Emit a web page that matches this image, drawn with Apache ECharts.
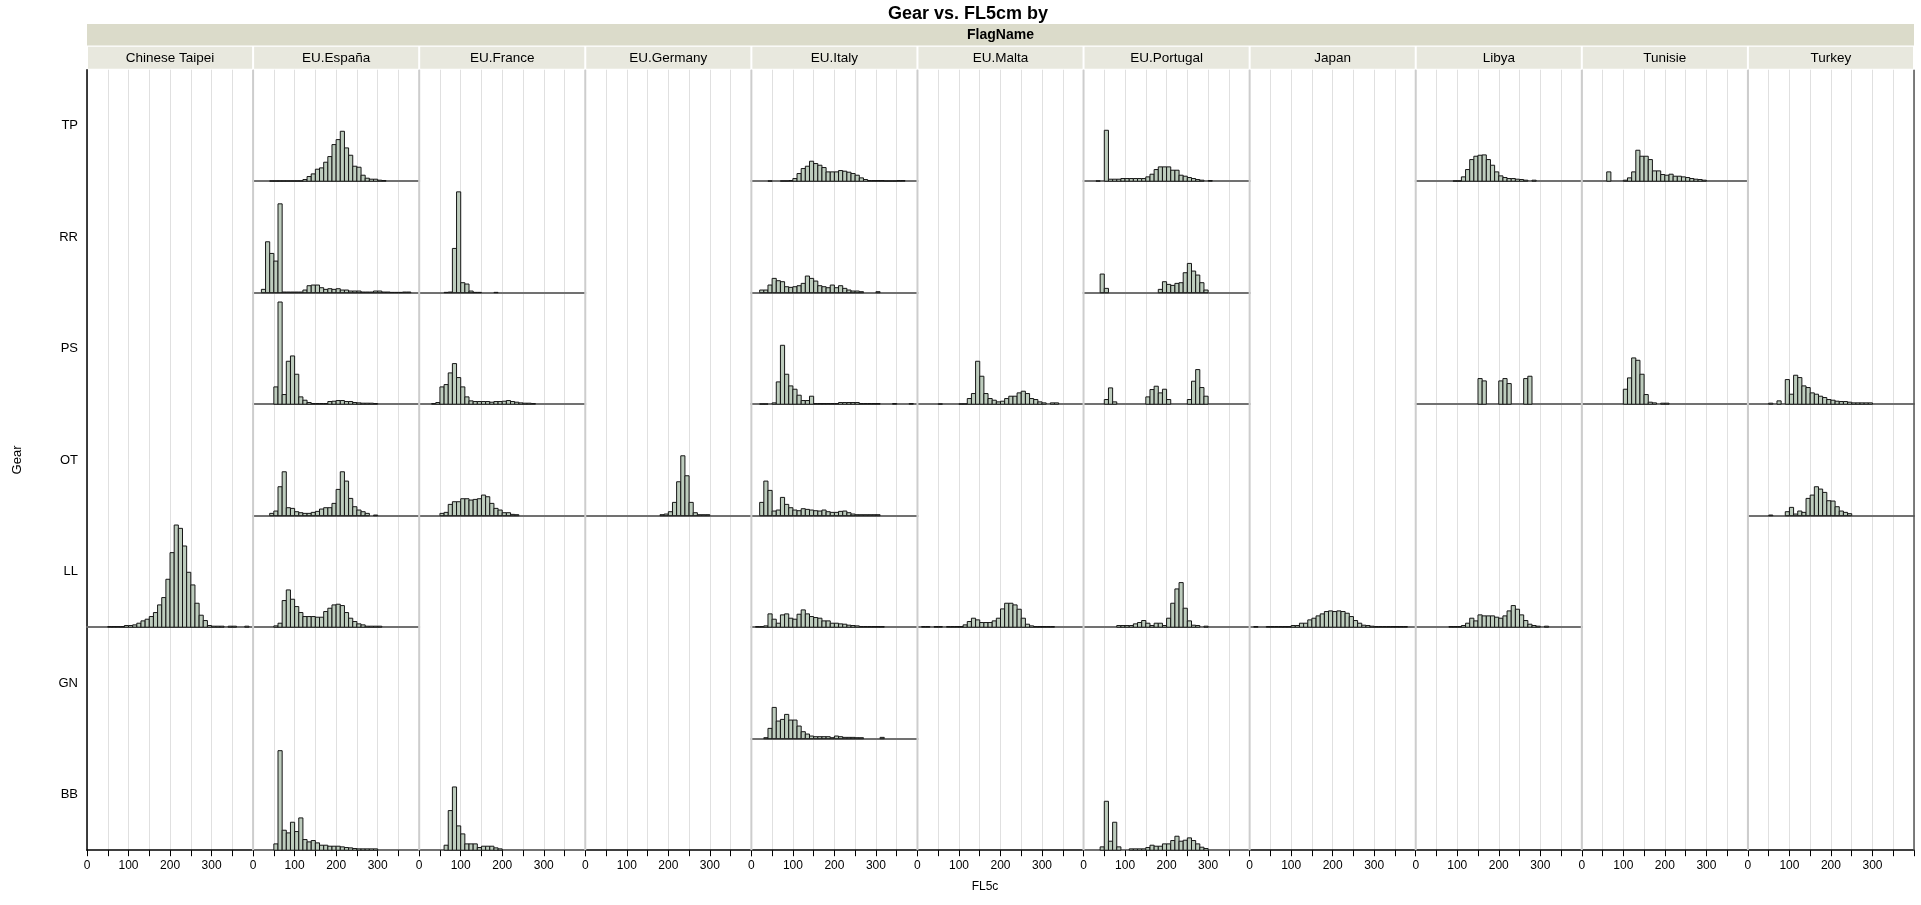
<!DOCTYPE html>
<html><head><meta charset="utf-8">
<script src="https://cdn.jsdelivr.net/npm/echarts@6/dist/echarts.min.js"></script>
<style>html,body{margin:0;padding:0;background:#fff}#c{width:1921px;height:905px}</style>
</head><body><div id="c"></div>
<script>
// ---- categories ----
const flags = ['Chinese Taipei','EU.España','EU.France','EU.Germany','EU.Italy','EU.Malta','EU.Portugal','Japan','Libya','Tunisie','Turkey'];
const gears = ['TP','RR','PS','OT','LL','GN','BB'];
const xTicks = [0,100,200,300];
const BIN = 10, X_MAX = 400, Y_MAX = 335;

// ---- histogram bins: start = left edge of first bin, h = bar heights ----
const TP_Espana   = {start:40,  h:[1,1,1,1,1,1,1,1,5,14,22,36,40,57,74,110,125,150,100,78,45,42,18,9,6,6,3,2]};
const TP_Italy    = {start:40,  h:[1,0,0,1,1,2,8,23,38,45,60,53,48,41,28,28,28,32,30,27,23,18,10,5,2,2,2,2,1,1,1,2,2]};
const TP_Portugal = {start:30,  h:[1,0,153,6,6,6,8,8,8,8,8,8,13,21,35,43,43,43,33,33,18,15,11,8,5,3,0,2]};
const TP_Libya    = {start:90,  h:[1,1,13,35,65,75,78,79,65,48,28,16,11,8,8,6,5,3,0,3]};
const TP_Tunisie  = {start:60,  h:[28,0,0,0,3,10,28,93,75,75,65,31,31,20,18,21,15,15,13,11,8,6,5,3]};

const RR_Espana   = {start:20,  h:[10,153,118,95,267,2,2,2,2,2,8,21,23,23,15,10,12,10,12,8,8,5,5,5,2,2,2,5,5,2,2,1,1,1,2,2]};
const RR_France   = {start:60,  h:[1,2,133,303,30,26,5,1,1,0,0,0,1]};
const RR_Italy    = {start:20,  h:[8,8,23,43,36,33,18,16,18,21,28,50,43,35,21,18,15,23,15,21,13,8,5,5,3,0,0,0,3]};
const RR_Portugal = {start:40,  h:[56,13,0,0,0,0,0,0,0,0,0,0,0,0,10,33,25,22,28,30,60,88,65,53,30,8]};

const PS_Espana   = {start:50,  h:[52,307,29,129,145,90,22,12,5,2,2,2,2,8,9,11,11,8,8,5,4,3,3,3,2]};
const PS_France   = {start:30,  h:[2,5,52,59,94,122,80,52,22,10,8,8,8,8,6,8,8,9,11,8,6,4,3,3,2]};
const PS_Italy    = {start:20,  h:[1,1,0,4,67,177,90,55,45,27,11,11,24,2,2,2,2,2,2,5,5,5,5,5,2,2,2,2,2,0,0,0,2,0,0,0,2]};
const PS_Malta    = {start:50,  h:[1,0,0,0,0,1,1,17,32,129,84,32,17,12,7,9,17,24,24,34,39,32,17,14,7,4,0,4,4]};
const PS_Portugal = {start:50,  h:[14,49,7,0,0,0,0,0,0,0,22,44,54,34,45,14,0,0,0,0,14,69,104,50,24]};
const PS_Libya    = {start:150, h:[77,70,0,0,0,70,77,62,0,0,0,77,84]};
const PS_Tunisie  = {start:100, h:[45,79,139,132,90,29,6,4,0,3,3]};
const PS_Turkey   = {start:50,  h:[3,0,10,0,74,30,87,80,55,50,34,30,24,20,14,12,9,8,8,6,4,4,4,4,4]};

const OT_Espana   = {start:40,  h:[7,14,87,132,24,22,12,9,7,7,10,13,20,24,24,37,79,132,104,52,27,17,12,7,0,2]};
const OT_France   = {start:50,  h:[7,10,34,42,42,51,51,47,49,51,62,57,37,22,17,9,9,4,3]};
const OT_Germany  = {start:180, h:[3,5,12,40,102,180,120,40,9,3,3,3]};
const OT_Italy    = {start:20,  h:[40,104,76,14,17,55,34,24,17,15,21,19,17,15,14,17,12,10,10,13,14,9,5,3,3,3,3,3,3]};
const OT_Turkey   = {start:50,  h:[2,0,0,0,12,25,5,14,10,52,62,87,80,70,45,44,27,14,10,6]};

const LL_Taipei   = {start:50,  h:[2,2,2,2,5,5,7,12,19,24,32,44,67,89,144,224,307,297,244,165,127,72,36,20,5,3,3,3,0,3,3,0,0,3]};
const LL_Espana   = {start:50,  h:[4,12,80,112,84,62,44,32,32,32,30,30,47,57,67,69,65,44,27,17,10,7,3,3,3,3]};
const LL_Italy    = {start:10,  h:[2,2,4,40,24,12,37,40,27,24,39,52,40,32,29,27,19,19,12,12,10,9,6,5,4,2,2,2,2,2,2]};
const LL_Malta    = {start:10,  h:[2,2,0,2,2,0,2,2,2,2,7,17,27,22,14,14,14,19,27,55,72,72,67,54,27,9,4,2,2,2,2,2]};
const LL_Portugal = {start:80,  h:[5,5,5,5,10,14,20,12,5,12,12,5,27,72,115,134,57,19,6,5,0,3]};
const LL_Japan    = {start:10,  h:[2,0,0,2,2,2,2,2,2,5,5,12,12,22,27,34,40,47,49,47,49,47,42,32,20,12,6,5,3,2,2,2,2,2,2,2,2]};
const LL_Libya    = {start:80,  h:[2,2,2,5,12,27,19,37,34,34,34,30,27,34,49,65,54,37,20,9,5,3,0,3]};

const GN_Italy    = {start:30,  h:[3,31,94,53,58,73,56,56,38,21,14,8,6,6,6,6,3,8,6,4,4,4,3,3,0,0,0,0,4]};

const BB_Espana   = {start:50,  h:[19,299,60,52,84,56,97,32,25,29,22,15,15,12,12,12,10,8,7,5,4,4,4,4,4]};
const BB_France   = {start:60,  h:[15,119,190,73,49,19,19,19,8,12,12,12,7,4]};
const BB_Portugal = {start:40,  h:[10,147,27,84,10,0,0,4,4,4,4,8,15,12,12,19,19,29,42,27,30,37,29,19,9,5]};

const cells = [
  ['TP','EU.España',TP_Espana],['TP','EU.Italy',TP_Italy],['TP','EU.Portugal',TP_Portugal],['TP','Libya',TP_Libya],['TP','Tunisie',TP_Tunisie],
  ['RR','EU.España',RR_Espana],['RR','EU.France',RR_France],['RR','EU.Italy',RR_Italy],['RR','EU.Portugal',RR_Portugal],
  ['PS','EU.España',PS_Espana],['PS','EU.France',PS_France],['PS','EU.Italy',PS_Italy],['PS','EU.Malta',PS_Malta],['PS','EU.Portugal',PS_Portugal],['PS','Libya',PS_Libya],['PS','Tunisie',PS_Tunisie],['PS','Turkey',PS_Turkey],
  ['OT','EU.España',OT_Espana],['OT','EU.France',OT_France],['OT','EU.Germany',OT_Germany],['OT','EU.Italy',OT_Italy],['OT','Turkey',OT_Turkey],
  ['LL','Chinese Taipei',LL_Taipei],['LL','EU.España',LL_Espana],['LL','EU.Italy',LL_Italy],['LL','EU.Malta',LL_Malta],['LL','EU.Portugal',LL_Portugal],['LL','Japan',LL_Japan],['LL','Libya',LL_Libya],
  ['GN','EU.Italy',GN_Italy],
  ['BB','EU.España',BB_Espana],['BB','EU.France',BB_France],['BB','EU.Portugal',BB_Portugal]
];

// ---- layout ----
const L = 87, R = 1914, T = 69.7, B = 850.2;
const colW = (R - L) / flags.length, rowH = (B - T) / gears.length;
const FONT = '"Liberation Sans", Arial, sans-serif';

const grid = [], xAxis = [], yAxis = [], series = [];

flags.forEach((f, c) => {
  grid.push({left: L + c * colW, top: T, width: colW, height: B - T});
  xAxis.push({
    type: 'value', gridIndex: c, min: 0, max: X_MAX, interval: 50,
    axisLine: {show: true, onZero: false, lineStyle: {color: '#000', width: 1.5}},
    axisTick: {show: true, length: 6, lineStyle: {color: '#000', width: 1}},
    axisLabel: {show: true, fontSize: 12, color: '#000', fontFamily: FONT, margin: 9,
      formatter: v => xTicks.includes(v) ? String(v) : ''},
    splitLine: {show: true, lineStyle: {color: '#e0e0e0', width: 1}}
  });
  if (c === 0) {
    yAxis.push({
      type: 'category', gridIndex: 0, data: gears, inverse: true,
      axisLine: {show: true, lineStyle: {color: '#000', width: 1.5}},
      axisTick: {show: false},
      axisLabel: {fontSize: 13, color: '#000', fontFamily: FONT, margin: 9},
      splitLine: {show: false},
      name: 'Gear', nameLocation: 'middle', nameGap: 63, nameRotate: 90,
      nameTextStyle: {fontSize: 13, color: '#000', fontFamily: FONT}
    });
  } else {
    yAxis.push({type: 'value', gridIndex: c, show: false, min: 0, max: 1});
  }
});

function renderBar(params, api) {
  const x0 = api.value(0), h = api.value(1);
  const a = api.coord([x0, h]);
  const b = api.coord([x0 + BIN, 0]);
  return {
    type: 'rect',
    shape: {x: a[0], y: a[1], width: b[0] - a[0], height: b[1] - a[1]},
    style: {fill: '#bdccbd', stroke: '#161616', lineWidth: 1}
  };
}

cells.forEach(([g, f, d]) => {
  const r = gears.indexOf(g), c = flags.indexOf(f);
  const gi = grid.length;
  grid.push({left: L + c * colW, top: T + r * rowH, width: colW, height: rowH});
  xAxis.push({
    type: 'value', gridIndex: gi, min: 0, max: X_MAX,
    axisLine: {show: true, onZero: false, lineStyle: {color: '#717171', width: 2}},
    axisTick: {show: false}, axisLabel: {show: false}, splitLine: {show: false}
  });
  yAxis.push({type: 'value', gridIndex: gi, min: 0, max: Y_MAX, show: false});
  const data = d.h.map((v, i) => [d.start + i * BIN, v]).filter(p => p[1] > 0);
  series.push({
    type: 'custom', xAxisIndex: gi, yAxisIndex: gi, coordinateSystem: 'cartesian2d',
    data: data, renderItem: renderBar, z: 5, silent: true, clip: false
  });
});

// ---- decorations: strips, titles, boundaries ----
const graphic = [];
graphic.push({type: 'text', x: 968, y: 14, z: 10,
  style: {text: 'Gear vs. FL5cm by', font: 'bold 18px ' + FONT, fill: '#000', textAlign: 'center', textVerticalAlign: 'middle'}});
graphic.push({type: 'rect', shape: {x: L, y: 24, width: R - L, height: 21.5}, style: {fill: '#dbdbca'}, z: 1});
graphic.push({type: 'text', x: (L + R) / 2, y: 35, z: 10,
  style: {text: 'FlagName', font: 'bold 14px ' + FONT, fill: '#000', textAlign: 'center', textVerticalAlign: 'middle'}});
flags.forEach((f, c) => {
  graphic.push({type: 'rect', shape: {x: L + c * colW + 1, y: 46.8, width: colW - 2, height: 22}, style: {fill: '#e8e8de'}, z: 1});
  graphic.push({type: 'text', x: L + (c + 0.5) * colW, y: 58, z: 10,
    style: {text: f, font: '13.5px ' + FONT, fill: '#000', textAlign: 'center', textVerticalAlign: 'middle'}});
  if (c > 0) {
    graphic.push({type: 'line', shape: {x1: L + c * colW, y1: T, x2: L + c * colW, y2: B}, style: {stroke: '#cdcdcd', lineWidth: 2}, z: 1});
  }
});
graphic.push({type: 'line', shape: {x1: R, y1: T, x2: R, y2: B}, style: {stroke: '#555', lineWidth: 1.5}, z: 1});
graphic.push({type: 'text', x: 985, y: 887, z: 10,
  style: {text: 'FL5c', font: '12px ' + FONT, fill: '#000', textAlign: 'center', textVerticalAlign: 'middle'}});

const chart = echarts.init(document.getElementById('c'), null, {renderer: 'canvas'});
chart.setOption({
  animation: false,
  backgroundColor: '#fff',
  textStyle: {fontFamily: FONT},
  grid, xAxis, yAxis, series, graphic
});
</script></body></html>
